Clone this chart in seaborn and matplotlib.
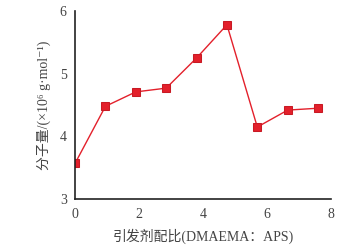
import matplotlib
matplotlib.use("Agg")
import matplotlib.pyplot as plt
import seaborn as sns
import pandas as pd

ratio = [0, 0.95, 1.9, 2.85, 3.8, 4.75, 5.7, 6.65, 7.6]
mw = [3.57, 4.48, 4.71, 4.77, 5.25, 5.78, 4.15, 4.42, 4.45]
xticks = [0, 2, 4, 6, 8]
yticks = [3, 4, 5, 6]

sns.set_style("white")
plt.rcParams['font.family'] = ['Liberation Serif', 'Noto Sans CJK SC', 'DejaVu Sans']

df = pd.DataFrame({"ratio": ratio, "mw": mw})
fig = plt.figure(figsize=(3.49, 2.49), dpi=100)
ax = fig.add_axes([0.215, 0.2, 0.733, 0.756])
sns.lineplot(data=df, x="ratio", y="mw", ax=ax, color="#e3202b", marker="s",
             markersize=6, markeredgecolor="#c81a24", linewidth=1.0)
ax.set_xlim(0, 8)
ax.set_ylim(3, 6)
ax.set_xticks(xticks)
ax.set_yticks(yticks)
for s in ["top", "right"]:
    ax.spines[s].set_visible(False)
for s in ["left", "bottom"]:
    ax.spines[s].set_color("#222222")
    ax.spines[s].set_linewidth(1.2)
ax.tick_params(direction="in", length=3, width=1, colors="#222222", labelsize=10,
               labelcolor="#444444", pad=6)
ax.set_xlabel("引发剂配比(DMAEMA：APS)", fontsize=10, color="#444444", labelpad=6)
ax.set_ylabel("分子量/(×10⁶ g·mol⁻¹)", fontsize=10, color="#444444", labelpad=6)
fig.savefig("out.png", dpi=100)
